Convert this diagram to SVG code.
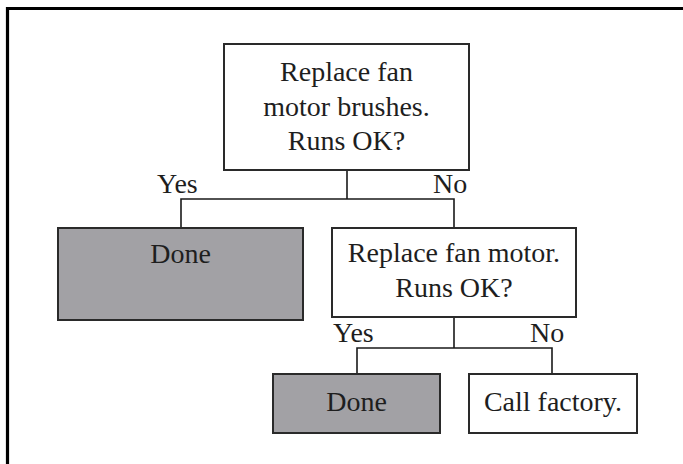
<svg xmlns="http://www.w3.org/2000/svg" width="683" height="464" viewBox="0 0 683 464">
<style>
.box{fill:#ffffff;stroke:#2a2a2a;stroke-width:2}
.grey{fill:#a2a1a5;stroke:#2a2a2a;stroke-width:2}
.t{font-family:"Liberation Serif","Times New Roman",serif;font-size:28px;fill:#1e1e1e;text-anchor:middle}
.lbl{font-family:"Liberation Serif","Times New Roman",serif;font-size:28px;fill:#1e1e1e}
.c{fill:none;stroke:#1a1a1a;stroke-width:1.6}
.frame{fill:none;stroke:#000;stroke-width:3.2}
</style>
<rect width="683" height="464" fill="#ffffff"/>
<path class="frame" d="M7.5,464 V8.5 H683"/>
<g id="connectors">
<path class="c" d="M347,170 V199 M181,228 V199 H454 V228"/>
<path class="c" d="M454,317 V348 M357,374 V348 H552 V374"/>
<text class="lbl" x="157" y="193">Yes</text>
<text class="lbl" x="433" y="193">No</text>
<text class="lbl" x="333" y="342">Yes</text>
<text class="lbl" x="530" y="342">No</text>
</g>
<g id="q1">
<rect class="box" x="224" y="44" width="245" height="126"/>
<text class="t" x="346.5" y="81">Replace fan</text>
<text class="t" x="346.5" y="116">motor brushes.</text>
<text class="t" x="346.5" y="150">Runs OK?</text>
</g>
<g id="done1">
<rect class="grey" x="58" y="228" width="245" height="92"/>
<text class="t" x="180.5" y="263">Done</text>
</g>
<g id="q2">
<rect class="box" x="332" y="228" width="244" height="89"/>
<text class="t" x="454" y="262">Replace fan motor.</text>
<text class="t" x="454" y="297">Runs OK?</text>
</g>
<g id="done2">
<rect class="grey" x="273" y="374" width="167" height="59"/>
<text class="t" x="356.5" y="411">Done</text>
</g>
<g id="factory">
<rect class="box" x="469" y="374" width="168" height="59"/>
<text class="t" x="553" y="411">Call factory.</text>
</g>
</svg>
